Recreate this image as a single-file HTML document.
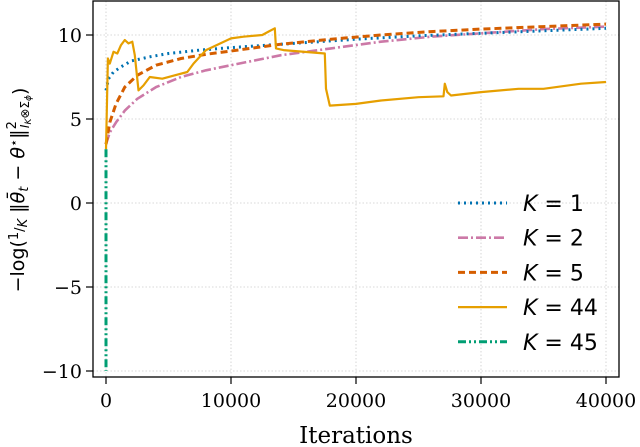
<!DOCTYPE html>
<html><head><meta charset="utf-8"><style>
html,body{margin:0;padding:0;background:#fff;}
svg{display:block;}
</style></head><body>
<svg id="chart" width="640" height="447" xmlns="http://www.w3.org/2000/svg">
<g id="grid"></g>
<g id="series"></g>
<rect x="93" y="1" width="526" height="376" fill="none" stroke="#000" stroke-width="1.3"/>
<g id="axes"></g>
<text x="356" y="443" font-family="DejaVu Serif, Liberation Serif, serif" font-size="23" text-anchor="middle">Iterations</text>
<text transform="translate(24,190) rotate(-90)" font-family="DejaVu Sans, Liberation Sans, sans-serif" font-size="19" text-anchor="middle">−log(<tspan font-size="13" dy="-6">1</tspan><tspan font-size="13" dy="6">/</tspan><tspan font-size="13" font-style="italic" dy="3">K</tspan><tspan dy="-3"> ‖</tspan><tspan font-style="italic">θ̄</tspan><tspan font-size="13" font-style="italic" dy="4">t</tspan><tspan dy="-4"> − </tspan><tspan font-style="italic">θ</tspan><tspan dy="-6" font-size="13">⋆</tspan><tspan dy="6">‖</tspan><tspan font-size="13" dy="-8">2</tspan><tspan font-size="12" dx="-7" dy="13" font-style="italic">I</tspan><tspan font-size="9" dy="2" font-style="italic">K</tspan><tspan font-size="12" dy="-2">⊗Σ</tspan><tspan font-size="9" dy="2" font-style="italic">ϕ</tspan><tspan dy="-5">)</tspan></text>
<g id="legend"></g>
</svg>
<script>
const NS="http://www.w3.org/2000/svg";
const xTicks=[0,10000,20000,30000,40000];
const yTicks=[-10,-5,0,5,10];
const names=["K = 1","K = 2","K = 5","K = 44","K = 45"];
const k1X=[0,200,600,1200,2000,3500,5000,7500,10000,15000,20000,25000,30000,35000,40000];
const k1Y=[6.7,7.4,7.8,8.1,8.45,8.7,8.9,9.1,9.25,9.5,9.75,9.95,10.1,10.25,10.4];
const k2X=[0,300,800,1500,2500,4000,6000,8000,10000,14000,18000,22000,26000,30000,35000,40000];
const k2Y=[3.5,4.2,4.8,5.5,6.2,6.9,7.5,7.9,8.2,8.8,9.2,9.6,9.9,10.1,10.35,10.5];
const k5X=[0,300,800,1500,2500,4000,6000,8000,10000,14000,18000,22000,26000,30000,35000,40000];
const k5Y=[3.5,4.8,5.9,6.9,7.6,8.2,8.6,8.85,9.05,9.45,9.75,10.0,10.2,10.35,10.5,10.65];
const k44X=[0,150,300,600,900,1200,1500,1800,2100,2300,2600,3000,3500,4500,5500,6500,7000,7500,8000,10000,11000,12500,13000,13500,13600,14200,17500,17600,17900,20000,22000,25000,27000,27100,27300,27600,30000,33000,35000,38000,40000];
const k44Y=[3.2,8.6,8.3,9.0,8.9,9.4,9.7,9.5,9.6,8.8,6.7,7.0,7.5,7.4,7.6,7.8,8.3,8.7,9.1,9.8,9.9,10.0,10.2,10.4,9.2,9.1,8.9,6.8,5.8,5.9,6.1,6.3,6.35,7.1,6.6,6.4,6.6,6.8,6.8,7.1,7.2];
const k45X=[0,0,0];
const k45Y=[3.2,-3,-10];
const colors=["#0072b2","#cc79a7","#d55e00","#e69f00","#009e73"];
const dashes=["2,4","10,3,2,3","7,4","","8,3,2,3,2,3"];
const widths=[3,2.6,3,2.2,3];
const sx=v=>106+v*0.0125;
const sy=v=>203-v*16.8;
const serif="DejaVu Serif, Liberation Serif, serif";
const grid=document.getElementById('grid'),axes=document.getElementById('axes');
function mk(tag,attrs,parent){const e=document.createElementNS(NS,tag);for(const k in attrs)e.setAttribute(k,attrs[k]);parent.appendChild(e);return e;}
xTicks.forEach(t=>{
 const g=mk('line',{x1:sx(t),x2:sx(t),y1:1,y2:377,stroke:'#ccc','stroke-width':0.8,'stroke-dasharray':'1.5,2'},grid);
 
 
 const tk=mk('line',{x1:sx(t),x2:sx(t),y1:377,y2:384,stroke:'#000','stroke-width':1.2},axes);
 
 
 const tx=mk('text',{x:sx(t),y:407,'font-family':serif,'font-size':19,'text-anchor':'middle'},axes);
 tx.textContent=t;
 
 
});
yTicks.forEach(t=>{
 const g=mk('line',{x1:93,x2:619,y1:sy(t),y2:sy(t),stroke:'#ccc','stroke-width':0.8,'stroke-dasharray':'1.5,2'},grid);
 
 
 const tk=mk('line',{x1:86,x2:93,y1:sy(t),y2:sy(t),stroke:'#000','stroke-width':1.2},axes);
 
 
 const tx=mk('text',{x:82,y:sy(t)+7,'font-family':serif,'font-size':19,'text-anchor':'end'},axes);
 tx.textContent=t<0?'−'+(-t):t;
 
 
});
const data=[[k1X,k1Y],[k2X,k2Y],[k5X,k5Y],[k44X,k44Y],[k45X,k45Y]];
const order=[1,0,2,3,4];
const ser=document.getElementById('series');
order.forEach(i=>{
 const [xs,ys]=data[i];
 const d=xs.map((x,j)=>(j?'L':'M')+sx(x).toFixed(1)+','+sy(ys[j]).toFixed(1)).join(' ');
 const p=mk('path',{d:d,fill:'none',stroke:colors[i],'stroke-width':widths[i],'stroke-dasharray':dashes[i],'stroke-linejoin':'round'},ser);
 
 
});
const leg=document.getElementById('legend');
names.forEach((n,i)=>{
 const y=203+i*34.7;
 const l=mk('line',{x1:458,x2:507,y1:y,y2:y,stroke:colors[i],'stroke-width':widths[i],'stroke-dasharray':dashes[i]},leg);
 
 
 const t=mk('text',{x:523,y:y+8,'font-family':'DejaVu Sans, Liberation Sans, sans-serif','font-size':22},leg);
 const parts=n.split(' = ');
 t.innerHTML='<tspan font-style="italic">K</tspan> = '+parts[1];
 
 
});
</script>
</body></html>
